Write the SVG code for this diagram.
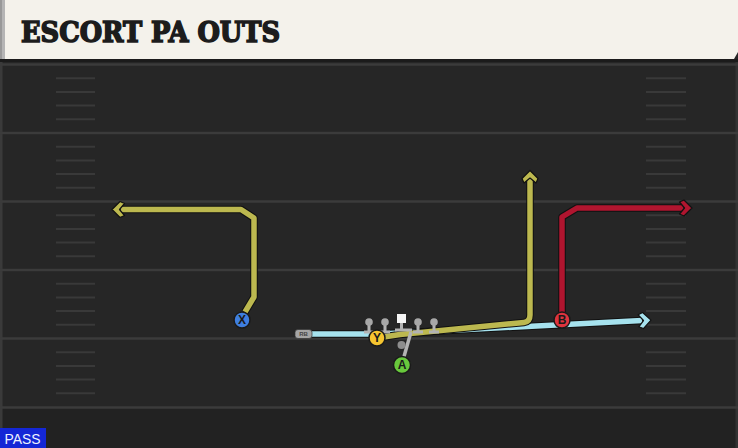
<svg xmlns="http://www.w3.org/2000/svg" width="738" height="448" viewBox="0 0 738 448">
<style>
.yl{stroke:#3b3b3b;stroke-width:2.5}
.hm{stroke:#393939;stroke-width:2}
.out{fill:none;stroke:#111;stroke-width:7.5;stroke-linejoin:round}
.rt{fill:none;stroke-width:5.5;stroke-linejoin:round}
.ah{stroke:#111;stroke-width:1.2;stroke-linejoin:round}
.ol{stroke:#b3b3b3;stroke-width:3}
.pc{stroke:#1a1a1a;stroke-width:1.5}
.pl{font-family:"Liberation Sans",Arial,sans-serif;font-weight:bold;font-size:12px;fill:#1a1a1a;text-anchor:middle}
</style>
<defs>
<path id="ah" d="M3,0 L-5,-8 L-9.5,-6 L-4.5,0 L-9.5,6 L-5,8 Z"/>
</defs>
<rect x="0" y="0" width="738" height="448" fill="#262626"/>
<rect x="0" y="408" width="738" height="40" fill="#222"/>
<rect x="0" y="60" width="2.5" height="388" fill="#3a3a3a"/>
<rect x="735.5" y="60" width="2.5" height="388" fill="#333"/>
<g id="field">
<line class="yl" x1="0" y1="64.5" x2="738" y2="64.5"/>
<line class="yl" x1="0" y1="133" x2="738" y2="133"/>
<line class="yl" x1="0" y1="201.5" x2="738" y2="201.5"/>
<line class="yl" x1="0" y1="270" x2="738" y2="270"/>
<line class="yl" x1="0" y1="338.5" x2="738" y2="338.5"/>
<line class="yl" x1="0" y1="407.5" x2="738" y2="407.5"/>
<path class="hm" d="M56,78.2H95M56,91.9H95M56,105.6H95M56,119.3H95M56,146.7H95M56,160.4H95M56,174.1H95M56,187.8H95M56,215.2H95M56,228.9H95M56,242.6H95M56,256.3H95M56,283.7H95M56,297.4H95M56,311.1H95M56,324.8H95M56,352.2H95M56,365.9H95M56,379.6H95M56,393.3H95"/>
<path class="hm" d="M646,78.2H686M646,91.9H686M646,105.6H686M646,119.3H686M646,146.7H686M646,160.4H686M646,174.1H686M646,187.8H686M646,215.2H686M646,228.9H686M646,242.6H686M646,256.3H686M646,283.7H686M646,297.4H686M646,311.1H686M646,324.8H686M646,352.2H686M646,365.9H686M646,379.6H686M646,393.3H686"/>
</g>
<g id="header">
<polygon points="0,0 738,0 738,52 734,59 0,59" fill="#f4f2eb"/>
<rect x="0" y="59" width="738" height="3" fill="#1b1b1b"/>
<rect x="0" y="0" width="5" height="59" fill="#b5b5b5"/>
<rect x="0" y="0" width="2" height="59" fill="#999"/>
<text x="21" y="42" font-family="'DejaVu Serif',serif" font-weight="bold" font-size="28" textLength="259" lengthAdjust="spacingAndGlyphs" fill="#1c1c1c" stroke="#1c1c1c" stroke-width="1.6" stroke-linejoin="miter">ESCORT PA OUTS</text>
</g>
<g id="connectors">
<path class="out" d="M311,334 L380,334 L642,320.6"/>
<path class="rt" stroke="#a6e2ee" d="M311,334 L380,334 L642,320.6"/>
<use href="#ah" class="ah" fill="#a6e2ee" transform="translate(648,320.3) rotate(-2.9)"/>
<path class="out" d="M377,338 L400,334.5 L524,322.5 Q530,321.8 530,315 L530,179"/>
<path class="rt" stroke="#bcb84f" d="M377,338 L400,334.5 L524,322.5 Q530,321.8 530,315 L530,179"/>
<use href="#ah" class="ah" fill="#bcb84f" transform="translate(530,173.5) rotate(-90)"/>
<path class="out" d="M245,312 L254,297 L254,218 L241,209.5 L121,209.5"/>
<path class="rt" stroke="#bcb84f" d="M245,312 L254,297 L254,218 L241,209.5 L121,209.5"/>
<use href="#ah" class="ah" fill="#bcb84f" transform="translate(115,209.5) rotate(180)"/>
<path class="out" d="M562,320 L562,217 L577,208 L683,208"/>
<path class="rt" stroke="#b0152f" d="M562,320 L562,217 L577,208 L683,208"/>
<use href="#ah" class="ah" fill="#b0152f" transform="translate(689,208)"/>
<line x1="411" y1="332" x2="403" y2="360" stroke="#b3b3b3" stroke-width="3.5"/>
</g>
<g id="line">
<circle cx="401.5" cy="345" r="4" fill="#8e8e8e"/>
<path class="ol" d="M369,322V332M364,332H374M385,322V332M380,332H390M418,322V332M413,332H423M434,322V332M429,332H439M401.5,322V330M395,330H412"/>
<circle cx="369" cy="322" r="3.8" fill="#a8a8a8"/>
<circle cx="385" cy="322" r="3.8" fill="#a8a8a8"/>
<circle cx="418" cy="322" r="3.8" fill="#a8a8a8"/>
<circle cx="434" cy="322" r="3.8" fill="#a8a8a8"/>
<rect x="397" y="314" width="9" height="9" fill="#f5f5f5"/>
</g>
<g id="rb">
<rect x="295" y="329.5" width="17" height="9" rx="3" fill="#a5a5a5" stroke="#333" stroke-width="0.7"/>
<text x="303.5" y="336.3" font-family="'Liberation Sans',sans-serif" font-weight="bold" font-size="6" text-anchor="middle" fill="#444">RB</text>
</g>
<g id="X"><circle class="pc" cx="242" cy="320" r="8" fill="#3f7fe0"/><text class="pl" x="242" y="324.3">X</text></g>
<g id="Y"><circle class="pc" cx="377" cy="338" r="8" fill="#f5c430"/><text class="pl" x="377" y="342.3">Y</text></g>
<g id="A"><circle class="pc" cx="402" cy="365" r="8.5" fill="#68c83c"/><text class="pl" x="402" y="369.3">A</text></g>
<g id="B"><circle class="pc" cx="562" cy="320" r="8" fill="#de343e"/><text class="pl" x="562" y="324.3">B</text></g>
<g id="pass">
<rect x="0" y="428" width="46" height="20" fill="#1427d6"/>
<text x="4.5" y="443.5" font-family="'Liberation Sans',sans-serif" font-size="15" textLength="36" lengthAdjust="spacingAndGlyphs" fill="#eef3ff">PASS</text>
</g>
</svg>
